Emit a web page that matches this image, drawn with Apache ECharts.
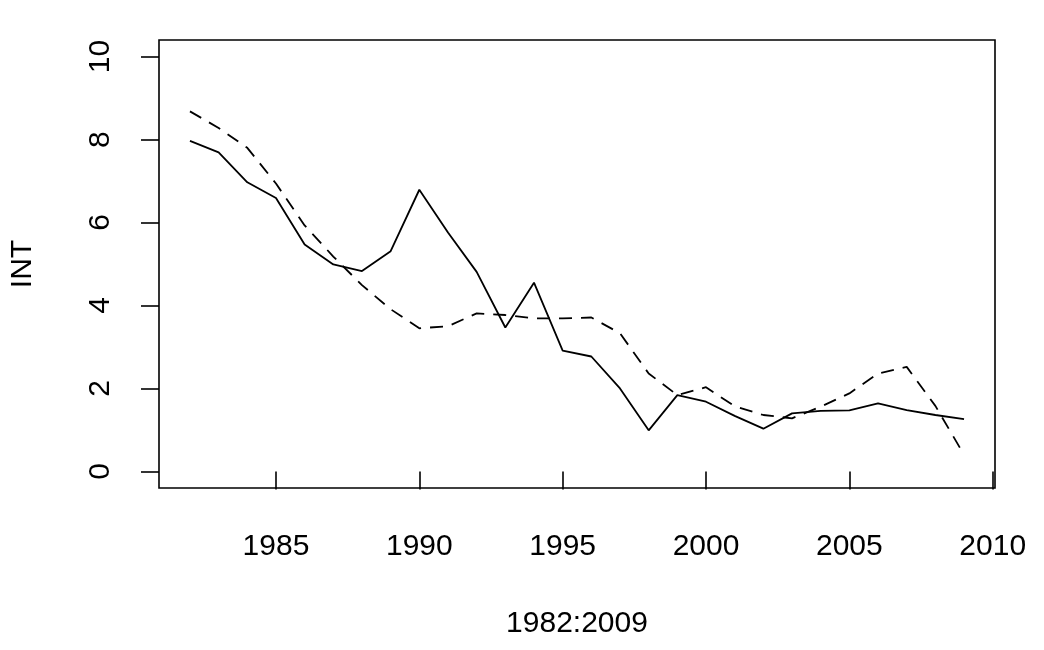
<!DOCTYPE html>
<html>
<head>
<meta charset="utf-8">
<script src="https://cdn.jsdelivr.net/npm/echarts@6/dist/echarts.min.js"></script>
<style>
  html, body { margin: 0; padding: 0; background: #fff; }
  #chart { width: 1044px; height: 650px; }
</style>
</head>
<body>
<div id="chart"></div>
<script>
const years = [1982, 1983, 1984, 1985, 1986, 1987, 1988, 1989, 1990, 1991,
               1992, 1993, 1994, 1995, 1996, 1997, 1998, 1999, 2000, 2001,
               2002, 2003, 2004, 2005, 2006, 2007, 2008, 2009];
const intObserved = [7.97, 7.69, 6.97, 6.59, 5.47, 4.99, 4.83, 5.31, 6.79, 5.76,
                     4.81, 3.47, 4.55, 2.91, 2.77, 2.00, 0.99, 1.84, 1.68, 1.34,
                     1.03, 1.40, 1.46, 1.47, 1.64, 1.48, 1.36, 1.26];
const intDashed = [8.68, 8.28, 7.80, 6.94, 5.93, 5.18, 4.49, 3.91, 3.45, 3.50,
                   3.81, 3.77, 3.69, 3.69, 3.71, 3.33, 2.36, 1.84, 2.03, 1.57,
                   1.36, 1.28, 1.56, 1.88, 2.36, 2.52, 1.58, 0.40];
const xTicks = [1985, 1990, 1995, 2000, 2005, 2010];
const yTicks = [0, 2, 4, 6, 8, 10];
const xName = '1982:2009';
const yName = 'INT';

const FONT = '"Liberation Sans", Arial, Helvetica, sans-serif';
const FS = 30;
const chart = echarts.init(document.getElementById('chart'), null, { renderer: 'canvas' });

const option = {
  animation: false,
  backgroundColor: '#ffffff',
  grid: {
    left: 157, right: 49, top: 40, bottom: 162,
    show: true, borderColor: '#000', borderWidth: 1.6, backgroundColor: 'transparent'
  },
  xAxis: {
    type: 'value',
    min: 1980.92, max: 2010.08,
    name: xName,
    nameLocation: 'middle',
    nameGap: 121,
    nameTextStyle: { fontFamily: FONT, fontSize: FS, color: '#000' },
    axisLine: { show: false },
    splitLine: { show: false },
    axisTick: { show: true, inside: false, length: 18, customValues: xTicks,
                lineStyle: { color: '#000', width: 1.6 } },
    axisLabel: { show: true, customValues: xTicks, margin: 44,
                 fontFamily: FONT, fontSize: FS, color: '#000',
                 formatter: v => String(v) }
  },
  yAxis: {
    type: 'value',
    min: -0.4, max: 10.4,
    name: yName,
    nameLocation: 'middle',
    nameGap: 121,
    nameTextStyle: { fontFamily: FONT, fontSize: FS, color: '#000' },
    axisLine: { show: false },
    splitLine: { show: false },
    axisTick: { show: true, inside: false, length: 18, customValues: yTicks,
                lineStyle: { color: '#000', width: 1.6 } },
    axisLabel: { show: true, customValues: yTicks, margin: 43, rotate: 90,
                 fontFamily: FONT, fontSize: FS, color: '#000',
                 formatter: v => String(v) }
  },
  series: [
    {
      type: 'line',
      data: years.map((y, i) => [y, intObserved[i]]),
      showSymbol: false,
      silent: true,
      lineStyle: { color: '#000', width: 1.8, type: 'solid' }
    },
    {
      type: 'line',
      data: years.map((y, i) => [y, intDashed[i]]),
      showSymbol: false,
      silent: true,
      lineStyle: { color: '#000', width: 1.8, type: [13, 9] }
    }
  ]
};
chart.setOption(option);
</script>
</body>
</html>
